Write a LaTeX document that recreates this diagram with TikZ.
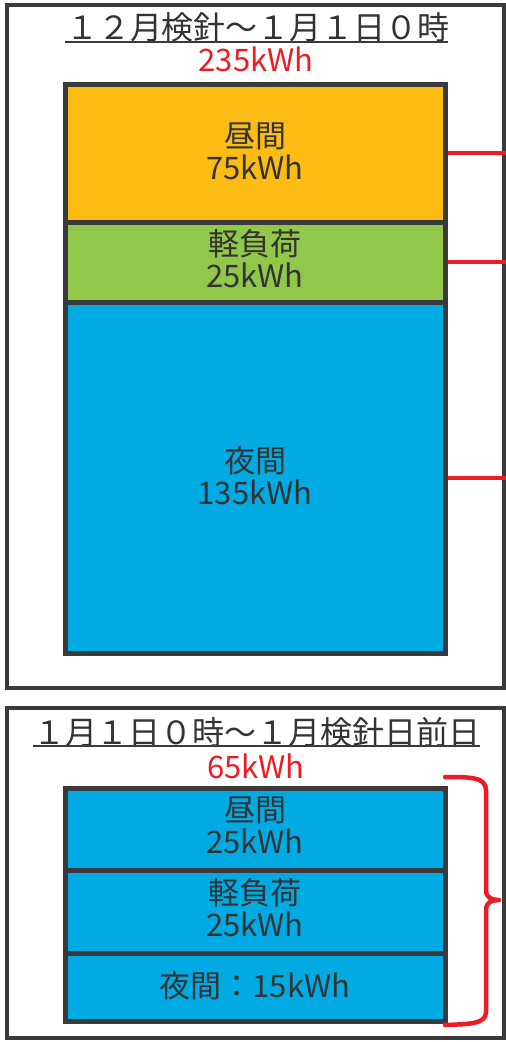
\documentclass[tikz,border=0pt]{standalone}
\usepackage{fontspec}
\setmainfont{Noto Sans CJK JP}
\definecolor{frame}{HTML}{3A3A3C}
\definecolor{ared}{HTML}{ED1C24}
\definecolor{ayel}{HTML}{FCBC14}
\definecolor{agrn}{HTML}{92C84A}
\definecolor{ablu}{HTML}{00AAE2}
\definecolor{atxt}{HTML}{333333}
\begin{document}
\begin{tikzpicture}[x=1pt,y=-1pt,
  outer/.style={draw=frame,line width=4pt},
  bar/.style={draw=frame,line width=5pt},
  lbl/.style={text=atxt,font=\fontsize{31}{32}\selectfont,align=center,inner sep=0pt},
  ttl/.style={text=atxt,font=\fontsize{32}{34}\selectfont,inner sep=0pt},
  tot/.style={text=ared,font=\fontsize{31}{32}\selectfont,inner sep=0pt},
  redline/.style={draw=ared,line width=4pt}]
\useasboundingbox (0,0) rectangle (506,1042);
\fill[white] (0,0) rectangle (506,1042);
% top panel
\draw[outer] (7,5) rectangle (504,688);
\node[ttl] (t1) at (258,27) {１２月検針～１月１日０時};
\draw[frame,line width=1.5pt] (65,42) -- (448,42);
\node[tot] (s1) at (256,59) {235kWh};
\draw[bar,fill=ayel] (65.5,84.5) rectangle (445.5,222);
\draw[bar,fill=agrn] (65.5,222) rectangle (445.5,302);
\draw[bar,fill=ablu] (65.5,302) rectangle (445.5,653);
\node[lbl] (d1) at (255,151) {昼間\\75kWh};
\node[lbl] (l1) at (255,259) {軽負荷\\25kWh};
\node[lbl] (n1) at (255,476) {夜間\\135kWh};
\coordinate (r1) at (506,153);
\coordinate (r2) at (506,262);
\coordinate (r3) at (506,478);
\draw[redline] (448,153) -- (r1);
\draw[redline] (448,262) -- (r2);
\draw[redline] (448,478) -- (r3);
% bottom panel
\draw[outer] (7,708) rectangle (504,1038);
\node[ttl] (t2) at (257,732) {１月１日０時～１月検針日前日};
\draw[frame,line width=1.5pt] (33,746) -- (480,746);
\node[tot] (s2) at (256,766) {65kWh};
\draw[bar,fill=ablu] (65.5,788) rectangle (445,870);
\draw[bar,fill=ablu] (65.5,870) rectangle (445,953);
\draw[bar,fill=ablu] (65.5,953) rectangle (445,1021);
\node[lbl] (d2) at (255,825) {昼間\\25kWh};
\node[lbl] (l2) at (255,908) {軽負荷\\25kWh};
\node[lbl] (n2) at (255,986) {夜間：15kWh};
\draw[ared,line width=4.5pt,line cap=round,line join=round]
  (445,777) .. controls (470,777) and (486,777) .. (486,790)
  -- (486,890) .. controls (486,898) and (492,900) .. (499,900)
  .. controls (492,900) and (486,902) .. (486,910)
  -- (486,1012) .. controls (486,1024) and (470,1024) .. (445,1025);
\end{tikzpicture}
\end{document}
